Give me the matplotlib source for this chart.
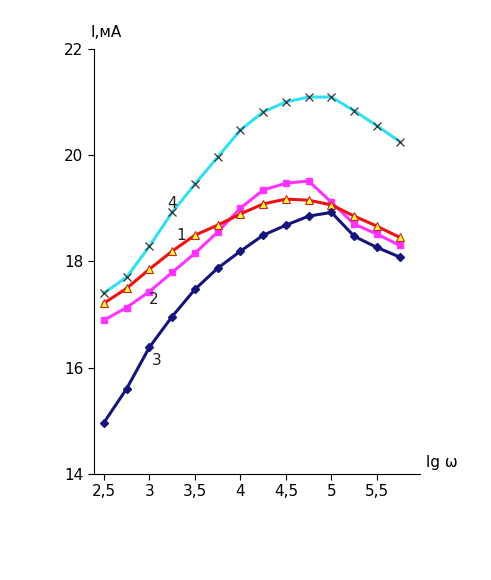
import matplotlib
matplotlib.use("Agg")
import matplotlib.pyplot as plt
from matplotlib.ticker import FuncFormatter

lg_w = [2.5, 2.75, 3.0, 3.25, 3.5, 3.75, 4.0, 4.25, 4.5, 4.75, 5.0, 5.25, 5.5, 5.75]
s1 = [17.21, 17.49, 17.85, 18.19, 18.49, 18.68, 18.89, 19.08, 19.17, 19.15, 19.06, 18.85, 18.66, 18.45]
s2 = [16.89, 17.13, 17.43, 17.79, 18.15, 18.55, 19.00, 19.34, 19.47, 19.51, 19.11, 18.70, 18.51, 18.30]
s3 = [14.96, 15.60, 16.38, 16.96, 17.47, 17.87, 18.19, 18.49, 18.68, 18.85, 18.92, 18.47, 18.26, 18.08]
s4 = [17.40, 17.70, 18.28, 18.92, 19.45, 19.96, 20.47, 20.81, 21.00, 21.09, 21.09, 20.83, 20.55, 20.25]

fig = plt.figure(figsize=(4.91, 5.80), dpi=100)
ax = fig.add_axes([0.191, 0.183, 0.664, 0.733])

ax.plot(lg_w, s4, color="#33e0f0", lw=2.2, marker="x", ms=6, mec="#333333", mew=0.9)
ax.plot(lg_w, s2, color="#ff33ff", lw=2.2, marker="s", ms=5, mfc="#ff33ff", mec="#ff33ff")
ax.plot(lg_w, s1, color="#ee1111", lw=2.2, marker="^", ms=6, mfc="#ffff33", mec="#cc2222", mew=0.8)
ax.plot(lg_w, s3, color="#14147a", lw=2.2, marker="D", ms=4, mfc="#14147a", mec="#14147a")

for t, x, y in [("1", 3.3, 18.4), ("2", 3.0, 17.2), ("3", 3.03, 16.05), ("4", 3.2, 19.0)]:
    ax.text(x, y, t, fontsize=11, color="#222222")

ax.set_xlim(2.39, 5.97)
ax.set_ylim(14, 22)
ax.set_xticks([2.5, 3, 3.5, 4, 4.5, 5, 5.5])
ax.set_yticks([14, 16, 18, 20, 22])
fmt = FuncFormatter(lambda v, p: f"{v:g}".replace(".", ","))
ax.xaxis.set_major_formatter(fmt)
ax.yaxis.set_major_formatter(fmt)
ax.tick_params(labelsize=11, direction="out", length=4)
for s in ["top", "right"]:
    ax.spines[s].set_visible(False)
ax.text(-0.01, 1.02, "I,мА", transform=ax.transAxes, fontsize=11, va="bottom")
ax.text(1.02, 0.01, "lg ω", transform=ax.transAxes, fontsize=11, va="bottom")

fig.savefig("out.png", dpi=100)
